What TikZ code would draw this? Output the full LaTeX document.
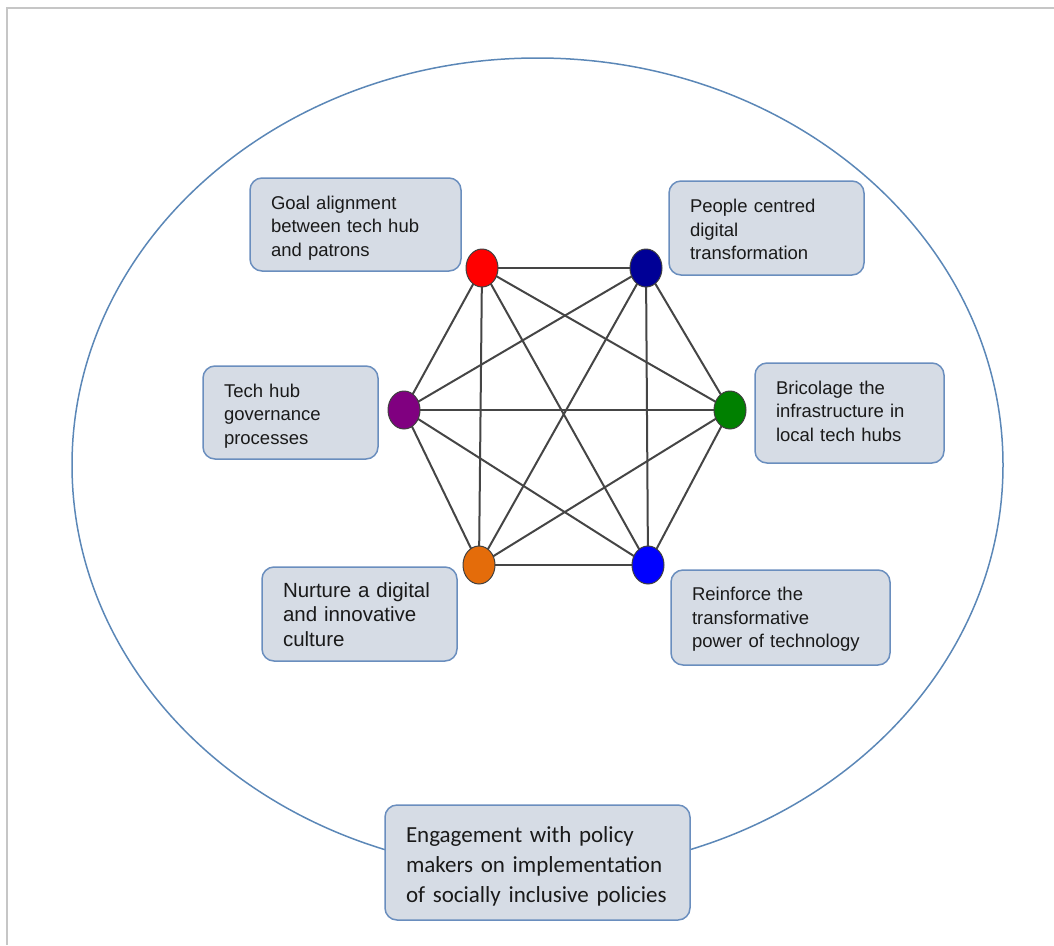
\documentclass[tikz,border=0pt]{standalone}
\usepackage{fontspec}
\setmainfont{Liberation Sans}
\newfontfamily\carlitofont{Carlito}
\usetikzlibrary{shapes.geometric,backgrounds}
\definecolor{boxfill}{HTML}{D6DCE5}
\definecolor{boxline}{HTML}{6A8EBE}
\definecolor{ringblue}{HTML}{5B87B7}
\definecolor{edgegray}{HTML}{454545}
\definecolor{framegray}{HTML}{C6C6C6}
\definecolor{hubnavy}{HTML}{000096}
\definecolor{huborange}{HTML}{E46C0A}
\definecolor{hubpurple}{HTML}{800080}
\definecolor{hubgreen}{HTML}{008000}
\definecolor{textdark}{HTML}{1A1A1A}
\begin{document}
\begin{tikzpicture}[x=1pt,y=-1pt,
  hub/.style={ellipse, draw=black!75, line width=1pt, minimum width=32pt, minimum height=38pt, inner sep=0pt},
  topicbox/.style={draw=boxline, fill=boxfill, rounded corners=12pt, line width=1.5pt, inner sep=0pt},
  topictext/.style={inner sep=0pt, align=left, text=textdark, font=\fontsize{18.5}{23.5}\selectfont},
  link/.style={draw=edgegray, line width=2pt}]
\useasboundingbox (0,0) rectangle (1054,945);
\draw[framegray, line width=2pt] (7,945) -- (7,8) -- (1054,8);
\node[ellipse, draw=ringblue, line width=1.5pt, minimum width=931pt, minimum height=814pt, inner sep=0pt] (ring) at (537.5,465) {};
% hubs
\node[hub, fill=red] (h1) at (482,268) {};
\node[hub, fill=hubnavy] (h2) at (646,268) {};
\node[hub, fill=hubpurple] (h3) at (404,410) {};
\node[hub, fill=hubgreen] (h4) at (730,410) {};
\node[hub, fill=huborange] (h5) at (479,565) {};
\node[hub, fill=blue] (h6) at (648,565) {};
\begin{pgfonlayer}{background}
\foreach \a/\b in {h1/h2,h1/h3,h1/h4,h1/h5,h1/h6,h2/h3,h2/h4,h2/h5,h2/h6,h3/h4,h3/h5,h3/h6,h4/h5,h4/h6,h5/h6}
  \draw[link] (\a.center) -- (\b.center);
\end{pgfonlayer}
% boxes
\node[topicbox, minimum width=211pt, minimum height=93pt] (b1) at (355.5,224.5) {};
\node[topictext, text width=169pt] (t1) at (355.5,228) {Goal alignment\\between tech hub\\and patrons};
\node[topicbox, minimum width=195pt, minimum height=94pt] (b2) at (766.5,228) {};
\node[topictext, text width=153pt] (t2) at (766.5,229.5) {People centred\\digital\\transformation};
\node[topicbox, minimum width=175pt, minimum height=93pt] (b3) at (290.5,412.5) {};
\node[topictext, text width=133pt] (t3) at (290.5,416) {Tech hub\\governance\\processes};
\node[topicbox, minimum width=189pt, minimum height=100pt] (b4) at (849.5,413) {};
\node[topictext, text width=147pt] (t4) at (849.5,411) {Bricolage the\\infrastructure in\\local tech hubs};
\node[topicbox, minimum width=195pt, minimum height=94pt] (b5) at (359.5,614) {};
\node[topictext, text width=153pt, font=\fontsize{20.5}{24.5}\selectfont] (t5) at (359.5,614.5) {Nurture a digital\\and innovative\\culture};
\node[topicbox, minimum width=219pt, minimum height=95pt] (b6) at (780.5,617.5) {};
\node[topictext, text width=177pt] (t6) at (780.5,619.5) {Reinforce the\\transformative\\power of technology};
\node[topicbox, minimum width=305pt, minimum height=115pt] (b7) at (537.5,862.5) {};
\node[topictext, text width=263pt, font=\carlitofont\fontsize{23}{30}\selectfont] (t7) at (537.5,866.5) {Engagement with policy\\makers on implementation\\of socially inclusive policies};
\end{tikzpicture}
\end{document}
